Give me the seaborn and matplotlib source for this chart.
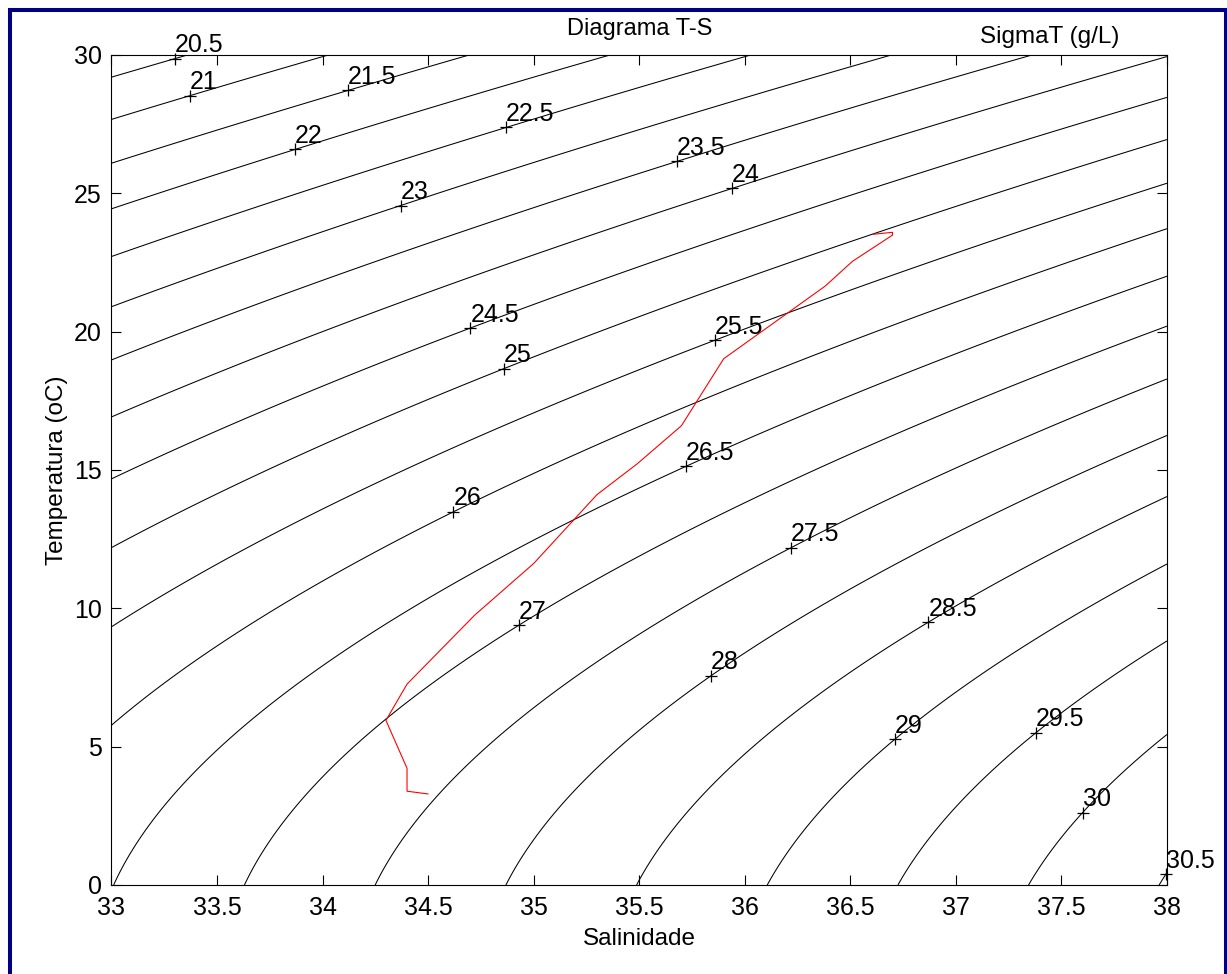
import numpy as np
import pandas as pd
import matplotlib
matplotlib.use("Agg")
import matplotlib.pyplot as plt
from matplotlib.patches import Rectangle
import seaborn as sns

sal_perfil = [34.50, 34.40, 34.40, 34.30, 34.40, 34.72, 35.00, 35.30,
              35.49, 35.70, 35.90, 36.38, 36.51, 36.70, 36.70, 36.61]
temp_perfil = [3.29, 3.39, 4.22, 5.95, 7.26, 9.75, 11.62, 14.11,
               15.22, 16.60, 19.02, 21.64, 22.54, 23.49, 23.59, 23.52]

# isopicnais (sigma-t) e onde cada rotulo aparece (salinidade)
niveis = [20.5, 21, 21.5, 22, 22.5, 23, 23.5, 24, 24.5, 25, 25.5,
          26, 26.5, 27, 27.5, 28, 28.5, 29, 29.5, 30, 30.5]
rotulo_sal = [33.30, 33.37, 34.12, 33.87, 34.87, 34.37, 35.68, 35.94, 34.70, 34.86, 35.86,
              34.62, 35.72, 34.93, 36.22, 35.84, 36.87, 36.71, 37.38, 37.60, 37.995]

x_ticks = [33, 33.5, 34, 34.5, 35, 35.5, 36, 36.5, 37, 37.5, 38]
y_ticks = [0, 5, 10, 15, 20, 25, 30]


def sigma_t(S, T):
    # UNESCO EOS-80, pressao zero
    rho_w = (999.842594 + 6.793952e-2 * T - 9.095290e-3 * T**2
             + 1.001685e-4 * T**3 - 1.120083e-6 * T**4 + 6.536332e-9 * T**5)
    A = 8.24493e-1 - 4.0899e-3 * T + 7.6438e-5 * T**2 - 8.2467e-7 * T**3 + 5.3875e-9 * T**4
    B = -5.72466e-3 + 1.0227e-4 * T - 1.6546e-6 * T**2
    C = 4.8314e-4
    return rho_w + A * S + B * S**1.5 + C * S**2 - 1000.0


sns.set_style("ticks")
plt.rcParams['font.family'] = ['Liberation Sans', 'DejaVu Sans']
plt.rcParams['text.color'] = 'black'
plt.rcParams['axes.labelcolor'] = 'black'
plt.rcParams['xtick.color'] = 'black'
plt.rcParams['ytick.color'] = 'black'

fig = plt.figure(figsize=(12.27, 9.74), dpi=100)
ax = fig.add_axes([0.09087, 0.09138, 0.8602, 0.8522])

S, T = np.meshgrid(np.linspace(33, 38, 201), np.linspace(0, 30, 201))
ax.contour(S, T, sigma_t(S, T), levels=niveis, colors='black', linewidths=0.75)

# rotulos estilo clabel do matlab: "+" e texto acima a direita
t_fino = np.linspace(0, 30, 3001)
for nivel, s in zip(niveis, rotulo_sal):
    sig = sigma_t(s, t_fino)
    t = np.interp(nivel, sig[::-1], t_fino[::-1])
    ax.plot(s, t, '+', color='black', ms=9, mew=0.9, clip_on=False)
    ax.annotate(f"{nivel:g}", (s, t), xytext=(0, 1), textcoords='offset points',
                ha='left', va='bottom', fontsize=18, color='black', annotation_clip=False)

df = pd.DataFrame({'sal': sal_perfil, 'temp': temp_perfil})
sns.lineplot(data=df, x='sal', y='temp', sort=False, estimator=None, errorbar=None,
             color='red', linewidth=0.8, ax=ax)

ax.set_xlim(33, 38)
ax.set_ylim(0, 30)
ax.set_xticks(x_ticks)
ax.set_xticklabels([f"{v:g}" for v in x_ticks])
ax.set_yticks(y_ticks)
ax.tick_params(direction='in', top=True, right=True, length=7.2, width=0.8,
               labelsize=18, color='black', labelcolor='black')
ax.tick_params(axis='x', pad=8)
ax.tick_params(axis='y', pad=7)
for sp in ax.spines.values():
    sp.set_linewidth(0.8)
    sp.set_color('black')

ax.set_xlabel('Salinidade', fontsize=17.5, labelpad=6)
ax.set_ylabel('Temperatura (oC)', fontsize=17.5, labelpad=4)
ax.set_title('Diagrama T-S', fontsize=17, pad=14.4)
fig.text(0.7987, 0.9555, 'SigmaT (g/L)', fontsize=17.5, va='baseline', ha='left')

# moldura azul em volta da figura
fig.add_artist(Rectangle((0.008, -0.1), 0.9908, 1.0899, transform=fig.transFigure,
                         fill=False, edgecolor='#000080', linewidth=2.9, clip_on=False))

fig.savefig('out.png', dpi=100)
